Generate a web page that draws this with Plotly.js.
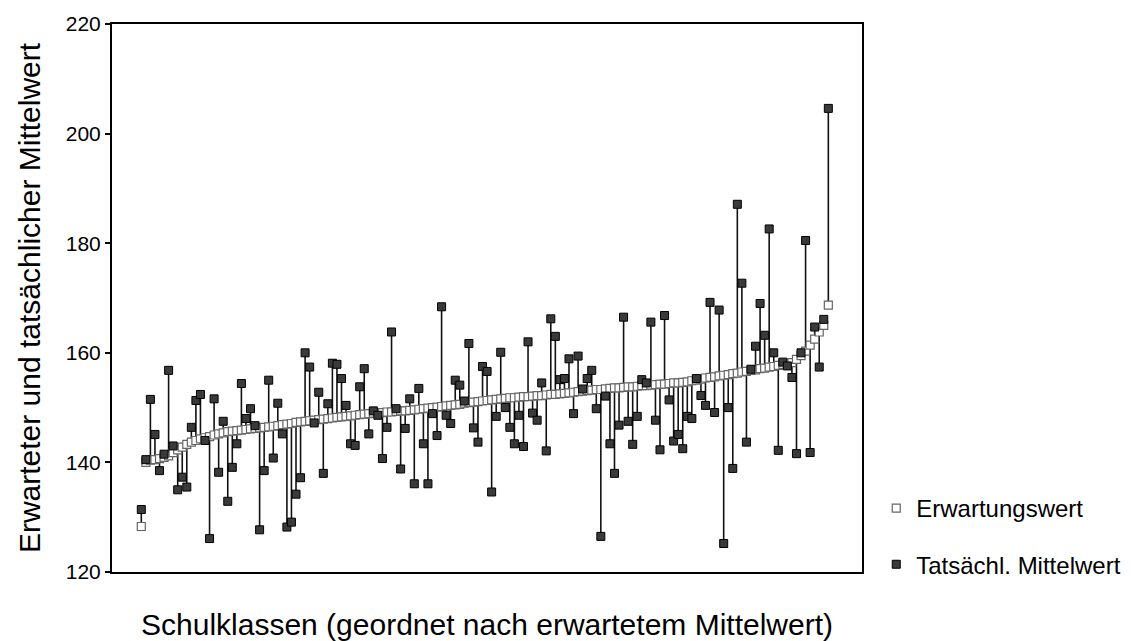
<!DOCTYPE html>
<html>
<head>
<meta charset="utf-8">
<script src="https://cdn.plot.ly/plotly-3.0.1.min.js"></script>
<style>html,body{margin:0;padding:0;background:#fff;}#chart{width:1135px;height:641px;}</style>
</head>
<body>
<div id="chart"></div>
<script>
// Expected mean per school class (sorted ascending)
const expected = [
128.3, 140.0, 140.4, 140.5, 140.7, 140.9, 141.2, 141.8, 142.3, 142.8,
143.3, 143.7, 144.0, 144.3, 144.5, 144.7, 145.0, 145.2, 145.4, 145.6,
145.7, 145.8, 145.9, 146.0, 146.1, 146.2, 146.3, 146.4, 146.5, 146.6,
146.7, 146.9, 147.0, 147.1, 147.3, 147.4, 147.5, 147.6, 147.7, 147.8,
147.9, 148.0, 148.1, 148.2, 148.3, 148.4, 148.5, 148.6, 148.7, 148.8,
148.9, 149.0, 149.0, 149.1, 149.2, 149.2, 149.3, 149.4, 149.4, 149.5,
149.6, 149.7, 149.8, 149.9, 150.0, 150.1, 150.2, 150.3, 150.4, 150.5,
150.6, 150.8, 150.9, 151.0, 151.1, 151.2, 151.3, 151.4, 151.5, 151.6,
151.7, 151.8, 151.8, 151.9, 152.0, 152.0, 152.1, 152.2, 152.2, 152.3,
152.4, 152.4, 152.5, 152.6, 152.7, 152.8, 152.9, 153.0, 153.1, 153.2,
153.3, 153.3, 153.4, 153.5, 153.6, 153.6, 153.7, 153.8, 153.8, 153.9,
154.0, 154.0, 154.1, 154.2, 154.3, 154.3, 154.4, 154.5, 154.5, 154.6,
154.7, 154.9, 155.0, 155.2, 155.4, 155.5, 155.6, 155.8, 155.9, 156.0,
156.2, 156.3, 156.5, 156.6, 156.8, 156.9, 157.1, 157.2, 157.4, 157.5,
157.7, 157.9, 158.0, 158.2, 158.8, 159.5, 160.3, 161.4, 162.5, 163.8,
165.0, 168.7
];
// Actual mean per school class
const actual = [
131.4, 140.5, 151.5, 145.1, 138.5, 141.5, 156.8, 143.0, 135.0, 137.3,
135.5, 146.4, 151.3, 152.4, 144.0, 126.1, 151.6, 138.2, 147.5, 132.9,
139.1, 143.4, 154.4, 148.0, 149.8, 146.7, 127.7, 138.5, 155.0, 140.8,
150.8, 145.2, 128.2, 129.1, 134.2, 137.2, 160.0, 157.4, 147.2, 152.8,
138.0, 150.7, 158.1, 157.9, 155.3, 150.4, 143.4, 143.1, 153.8, 157.1,
145.2, 149.4, 148.6, 140.7, 146.4, 163.8, 149.8, 138.8, 146.2, 151.6,
136.1, 153.5, 143.4, 136.1, 148.9, 144.9, 168.4, 148.6, 147.1, 155.0,
154.1, 151.2, 161.7, 146.3, 143.7, 157.5, 156.6, 134.6, 148.4, 160.1,
150.0, 146.4, 143.4, 148.6, 142.9, 162.0, 149.0, 147.7, 154.5, 142.1,
166.2, 163.0, 155.1, 155.3, 158.9, 148.9, 159.4, 153.4, 155.3, 156.8,
149.8, 126.5, 152.1, 143.4, 138.0, 146.8, 166.5, 147.5, 143.3, 148.4,
155.1, 154.5, 165.6, 147.7, 142.3, 166.8, 151.4, 143.9, 145.1, 142.5,
148.4, 148.0, 155.3, 152.2, 150.4, 169.2, 149.1, 167.8, 125.2, 150.0,
138.9, 187.1, 172.7, 143.7, 157.0, 161.2, 169.0, 163.2, 182.6, 160.0,
142.2, 158.3, 157.6, 155.5, 141.6, 160.0, 180.5, 141.8, 164.7, 157.4,
166.1, 204.6
];
const yTicks = [120, 140, 160, 180, 200, 220];
const seriesNames = ['Erwartungswert', 'Tatsächl. Mittelwert'];
const xTitle = 'Schulklassen (geordnet nach erwartetem Mittelwert)';
const yTitle = 'Erwarteter und tatsächlicher Mittelwert';

const rank = expected.map((_, i) => i + 1);

// drop lines between expected and actual value of each class
const lx = [], ly = [];
rank.forEach((r, i) => { lx.push(r, r, null); ly.push(expected[i], actual[i], null); });

const FONT = 'Liberation Sans, Arial, Helvetica, sans-serif';

const traces = [
  {x: lx, y: ly, mode: 'lines', type: 'scatter', showlegend: false, hoverinfo: 'skip',
   line: {color: '#111', width: 1.6}},
  {x: rank, y: expected, mode: 'markers', type: 'scatter', name: seriesNames[0], legendgroup: 'a',
   marker: {symbol: 'square', size: 8, color: '#ffffff', line: {color: '#666', width: 1.2}}},
  {x: rank, y: actual, mode: 'markers', type: 'scatter', name: seriesNames[1], legendgroup: 'b',
   marker: {symbol: 'square', size: 8, color: '#3a3a3a', line: {color: '#000', width: 1}}}
];

const layout = {
  width: 1135, height: 641,
  margin: {l: 112, r: 273, t: 24, b: 69, autoexpand: false},
  paper_bgcolor: '#fff', plot_bgcolor: '#fff',
  font: {family: FONT, color: '#000'},
  showlegend: true,
  legend: {x: 1.019, xanchor: 'left', y: 0.157, yanchor: 'top', font: {size: 24, family: FONT},
           tracegroupgap: 22, traceorder: 'grouped', bgcolor: 'rgba(0,0,0,0)'},
  xaxis: {range: [-5.44, 159.4], showticklabels: false, ticks: '', showgrid: false, zeroline: false,
          showline: true, linecolor: '#000', linewidth: 2, mirror: true,
          title: {text: xTitle, font: {size: 30, family: FONT}, standoff: 44}},
  yaxis: {range: [120, 220], tickvals: yTicks, ticks: 'outside', ticklen: 5, tickwidth: 2, tickcolor: '#000',
          tickfont: {size: 21, family: FONT}, showgrid: false, zeroline: false,
          showline: true, linecolor: '#000', linewidth: 2, mirror: true,
          title: {text: yTitle, font: {size: 30, family: FONT}, standoff: 16}}
};

Plotly.newPlot('chart', traces, layout, {displayModeBar: false, staticPlot: true});
</script>
</body>
</html>
